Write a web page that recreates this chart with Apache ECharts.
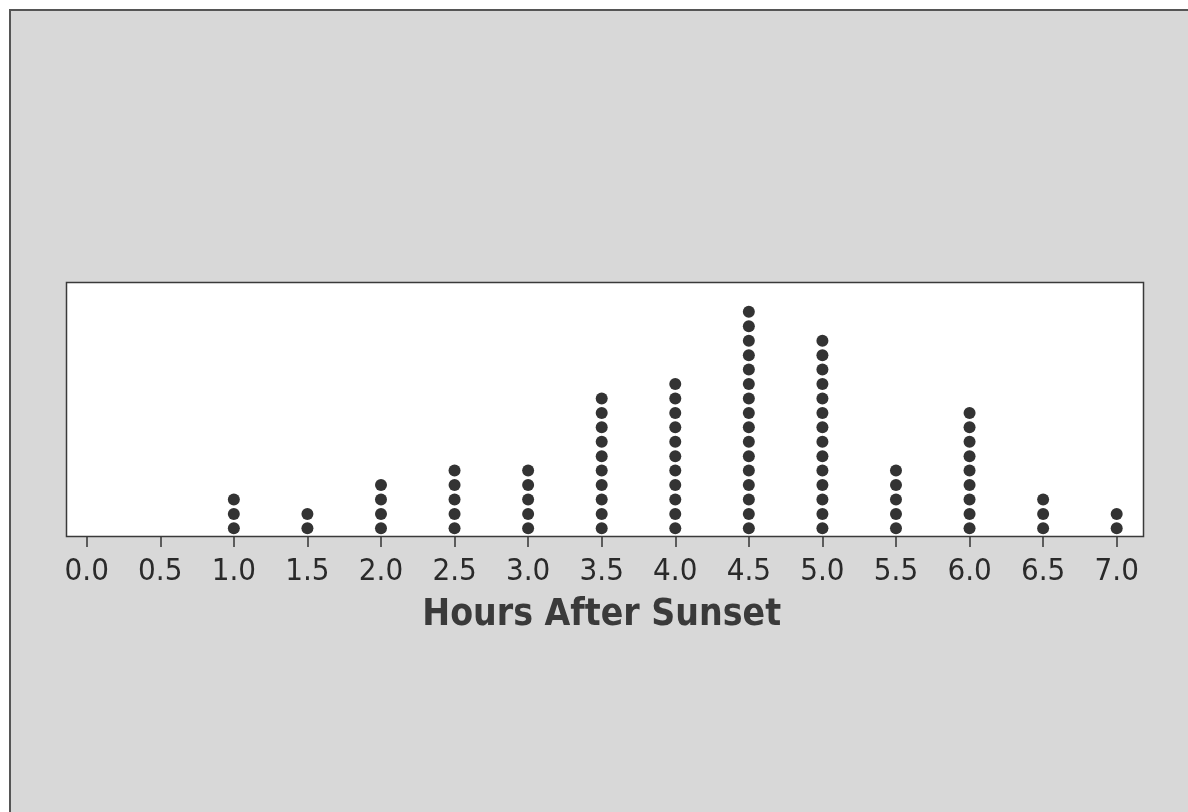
<!DOCTYPE html>
<html>
<head>
<meta charset="utf-8">
<script src="https://cdn.jsdelivr.net/npm/echarts/dist/echarts.min.js"></script>
<style>
  html, body { margin: 0; padding: 0; background: #ffffff; }
  #chart { width: 1188px; height: 812px; }
</style>
</head>
<body>
<div id="chart"></div>
<script>
// hours after sunset and how many dots are stacked over each value
const hours = [1.0, 1.5, 2.0, 2.5, 3.0, 3.5, 4.0, 4.5, 5.0, 5.5, 6.0, 6.5, 7.0];
const counts = [3, 2, 4, 5, 5, 10, 11, 16, 14, 5, 9, 3, 2];
const axisTitle = 'Hours After Sunset';

// one point per dot: x = hour, y = position in the stack
const dots = [];
hours.forEach(function (h, i) {
    for (let k = 1; k <= counts[i]; k++) {
        dots.push([h, k]);
    }
});

const chart = echarts.init(document.getElementById('chart'));

const font = '"DejaVu Sans Condensed", "DejaVu Sans", sans-serif';

const option = {
    animation: false,
    backgroundColor: '#ffffff',
    graphic: [
        // paper background with the frame line on top/left
        { type: 'rect', z: -10, shape: { x: 10, y: 10, width: 1200, height: 820 },
          style: { fill: '#d8d8d8', stroke: '#555555', lineWidth: 2 } },
        // white plot box
        { type: 'rect', z: -5, shape: { x: 66.5, y: 282.5, width: 1077, height: 254 },
          style: { fill: '#ffffff', stroke: '#3a3a3a', lineWidth: 1.5 } }
    ],
    grid: { left: 86.7, top: 283, width: 1030, height: 254 },
    xAxis: {
        type: 'value',
        min: 0,
        max: 7,
        interval: 0.5,
        axisLine: { show: false },
        axisTick: { show: true, inside: false, length: 10, lineStyle: { color: '#333', width: 1.5 } },
        splitLine: { show: false },
        axisLabel: {
            margin: 19,
            fontFamily: font,
            fontSize: 31,
            color: '#2a2a2a',
            formatter: function (v) { return v.toFixed(1); }
        },
        name: axisTitle,
        nameLocation: 'middle',
        nameGap: 60,
        nameTextStyle: { fontFamily: font, fontWeight: 'bold', fontSize: 37, color: '#3a3a3a' }
    },
    yAxis: {
        type: 'value',
        min: 0.4,
        max: 18,
        show: false
    },
    series: [{
        type: 'scatter',
        symbol: 'circle',
        symbolSize: 12,
        itemStyle: { color: '#333333', opacity: 1 },
        data: dots
    }]
};

chart.setOption(option);
</script>
</body>
</html>
